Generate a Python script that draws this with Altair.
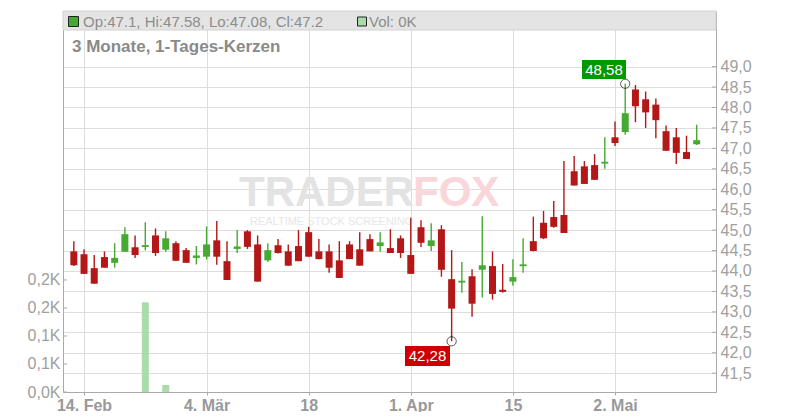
import altair as alt
import pandas as pd
import numpy as np

# ---------------- data ----------------
dates = [
    "2025-02-13", "2025-02-14", "2025-02-17", "2025-02-18", "2025-02-19", "2025-02-20", "2025-02-21",
    "2025-02-24", "2025-02-25", "2025-02-26", "2025-02-27", "2025-02-28",
    "2025-03-03", "2025-03-04", "2025-03-05", "2025-03-06", "2025-03-07",
    "2025-03-10", "2025-03-11", "2025-03-12", "2025-03-13", "2025-03-14",
    "2025-03-17", "2025-03-18", "2025-03-19", "2025-03-20", "2025-03-21",
    "2025-03-24", "2025-03-25", "2025-03-26", "2025-03-27", "2025-03-28", "2025-03-31",
    "2025-04-01", "2025-04-02", "2025-04-03", "2025-04-04",
    "2025-04-07", "2025-04-08", "2025-04-09", "2025-04-10", "2025-04-11",
    "2025-04-14", "2025-04-15", "2025-04-16", "2025-04-17",
    "2025-04-22", "2025-04-23", "2025-04-24", "2025-04-25",
    "2025-04-28", "2025-04-29", "2025-04-30",
    "2025-05-02", "2025-05-05", "2025-05-06", "2025-05-07", "2025-05-08", "2025-05-09",
    "2025-05-12", "2025-05-13", "2025-05-14",
]
opens = [
    44.48, 44.41, 44.07, 44.34, 44.20, 44.47, 44.58, 44.60, 44.87, 44.52,
    44.68, 44.51, 44.32, 44.35, 44.75, 44.24, 44.54, 44.97, 44.65, 44.26,
    44.63, 44.48, 44.61, 44.95, 44.48, 44.48, 44.26, 44.65, 44.53, 44.78,
    44.61, 44.56, 44.80, 44.39, 45.07, 44.61, 45.02, 43.80, 43.73, 43.87,
    44.03, 44.12, 43.54, 43.74, 44.13, 44.73, 45.18, 45.32, 45.37, 46.44,
    46.56, 46.59, 46.64, 47.27, 47.40, 48.44, 48.20, 48.07, 47.42, 47.27,
    46.91, 47.10,
]
highs = [
    44.73, 44.53, 44.39, 44.48, 44.68, 45.07, 44.87, 45.19, 45.04, 44.97,
    44.73, 44.56, 44.61, 45.09, 45.22, 44.73, 45.00, 45.00, 44.87, 44.68,
    44.78, 44.65, 45.00, 45.08, 44.78, 44.65, 44.73, 44.73, 44.95, 44.90,
    44.95, 45.02, 44.87, 45.30, 45.24, 45.17, 45.12, 44.51, 44.22, 44.04,
    45.34, 44.48, 44.17, 44.29, 44.80, 45.33, 45.47, 45.71, 46.69, 46.81,
    46.69, 46.86, 47.27, 47.66, 48.58, 48.55, 48.39, 48.22, 47.56, 47.50,
    47.31, 47.58,
]
lows = [
    44.12, 43.93, 43.69, 44.08, 44.08, 44.47, 44.32, 44.51, 44.37, 44.47,
    44.25, 44.20, 44.16, 44.28, 44.15, 43.78, 44.44, 44.54, 43.74, 44.22,
    44.43, 44.13, 44.24, 44.35, 44.29, 43.96, 43.83, 44.29, 44.13, 44.48,
    44.47, 44.44, 44.32, 43.93, 44.59, 44.49, 43.86, 42.28, 43.47, 42.88,
    43.35, 43.30, 43.47, 43.64, 43.96, 44.48, 44.78, 45.06, 44.93, 46.09,
    46.13, 46.23, 46.50, 47.06, 47.33, 47.64, 47.50, 47.25, 46.94, 46.62,
    46.74, 47.08,
]
closes = [
    44.14, 43.93, 43.69, 44.08, 44.32, 44.90, 44.39, 44.62, 44.44, 44.80,
    44.25, 44.20, 44.38, 44.65, 44.35, 43.78, 44.60, 44.59, 43.74, 44.51,
    44.44, 44.13, 44.24, 44.35, 44.29, 44.08, 43.83, 44.29, 44.13, 44.48,
    44.70, 44.44, 44.44, 43.93, 44.69, 44.75, 44.03, 43.08, 43.75, 43.20,
    44.14, 43.44, 43.49, 43.85, 44.15, 44.49, 44.80, 45.08, 44.93, 46.09,
    46.13, 46.23, 46.66, 47.13, 47.86, 48.03, 47.88, 47.69, 46.94, 46.89,
    46.74, 47.20,
]
volumes = [
    0, 0, 0, 0, 0, 0, 0, 160, 0, 12.5,
    0, 0, 0, 0, 0, 0, 0, 0, 0, 0,
    0, 0, 0, 0, 0, 0, 0, 0, 0, 0,
    0, 0, 0, 0, 0, 0, 0, 0, 0, 0,
    0, 0, 0, 0, 0, 0, 0, 0, 0, 0,
    0, 0, 0, 0, 0, 0, 0, 0, 0, 0,
    0, 0,
]
tick_dates = ["2025-02-14", "2025-03-04", "2025-03-18", "2025-04-01", "2025-04-15", "2025-05-02"]
tick_labels = ["14. Feb", "4. Mär", "18", "1. Apr", "15", "2. Mai"]
price_ticks = [41.5, 42.0, 42.5, 43.0, 43.5, 44.0, 44.5, 45.0, 45.5, 46.0, 46.5, 47.0, 47.5, 48.0, 48.5, 49.0]
vol_ticks = [0, 50, 100, 150, 200]
vol_tick_labels = ["0,0K", "0,1K", "0,1K", "0,2K", "0,2K"]

header_text = "Op:47.1, Hi:47.58, Lo:47.08, Cl:47.2"
vol_text = "Vol: 0K"
subtitle = "3 Monate, 1-Tages-Kerzen"
max_label = "48,58"
min_label = "42,28"

# ---------------- frames ----------------
df = pd.DataFrame({"date": dates, "open": opens, "high": highs, "low": lows,
                   "close": closes, "vol": volumes})
df["i"] = np.arange(len(df))
df["dir"] = np.where(df["close"] >= df["open"], "up", "down")
top = np.maximum(df["open"], df["close"])
bot = np.minimum(df["open"], df["close"])
mid = (top + bot) / 2
thin = (top - bot) < 0.045
df["btop"] = np.where(thin, mid + 0.0225, top)
df["bbot"] = np.where(thin, mid - 0.0225, bot)

imax = int(np.argmax(highs))
imin = int(np.argmin(lows))
ext = pd.DataFrame({"i": [imax, imin], "p": [highs[imax], lows[imin]]})

tick_idx = [dates.index(d) for d in tick_dates]
x_expr = "".join(f"datum.value == {k} ? '{l}' : " for k, l in zip(tick_idx, tick_labels)) + "''"
v_expr = "".join(f"datum.value == {k} ? '{l}' : " for k, l in zip(vol_ticks, vol_tick_labels)) + "''"

W, H = 653, 381
FONT = "Liberation Sans, Arial, Helvetica, sans-serif"
RED = "#b31717"
GREEN = "#46aa32"
AX = "#aaaaaa"

x_enc = alt.X("i:Q", scale=alt.Scale(domain=[-0.57, 62.4], nice=False, zero=False),
              axis=alt.Axis(values=tick_idx, labelExpr=x_expr, title=None, grid=True,
                            gridColor="#dddddd", domainColor=AX, tickColor=AX, tickSize=3,
                            labelFontWeight="bold", labelFontSize=16, labelColor="#999999",
                            labelPadding=2, labelFont=FONT, labelFlush=False))

p_scale = alt.Scale(domain=[41.04, 50.36], nice=False, zero=False)
p_axis = alt.Axis(orient="right", values=price_ticks, title=None, grid=True, gridColor="#dddddd",
                  ticks=False, domainColor=AX, labelColor="#a0a0a0", labelFontSize=16,
                  labelPadding=4, labelFont=FONT,
                  labelExpr="replace(format(datum.value, '.1f'), '.', ',')")
v_scale = alt.Scale(domain=[0, 680], nice=False)
v_axis = alt.Axis(orient="left", values=vol_ticks, title=None, grid=False, ticks=False,
                  domainColor=AX, labelColor="#a0a0a0", labelFontSize=16, labelPadding=3,
                  labelFont=FONT, labelExpr=v_expr)

color_enc = alt.Color("dir:N", scale=alt.Scale(domain=["up", "down"], range=[GREEN, RED]), legend=None)

# ---------------- volume group ----------------
vol_bars = alt.Chart(df).mark_bar(size=7, color="#a8dca8").encode(
    x=x_enc, y=alt.Y("vol:Q", scale=v_scale, axis=v_axis))
vol_tk = alt.Chart(pd.DataFrame({"v": vol_ticks})).mark_rule(color=AX).encode(
    y=alt.Y("v:Q", scale=v_scale, axis=v_axis), x=alt.value(0), x2=alt.value(4))
vol_group = alt.layer(vol_bars, vol_tk)

# ---------------- watermark / header ----------------
wm1 = alt.Chart(pd.DataFrame({"t": ["TRADER"]})).mark_text(
    font=FONT, fontSize=42, fontWeight="bold", color="#e3e3e3",
    align="left", baseline="alphabetic").encode(text="t:N", x=alt.value(176), y=alt.value(195))
wm2 = alt.Chart(pd.DataFrame({"t": ["FOX"]})).mark_text(
    font=FONT, fontSize=42, fontWeight="bold", color="#f9d6d9", align="left",
    baseline="alphabetic").encode(text="t:N", x=alt.value(350), y=alt.value(195))
wm3 = alt.Chart(pd.DataFrame({"t": ["REALTIME STOCK SCREENING"]})).mark_text(
    font=FONT, fontSize=11, color="#e6e6e6", align="left", baseline="middle").encode(
    text="t:N", x=alt.value(187), y=alt.value(211))

band = alt.Chart(pd.DataFrame({"t": [1]})).mark_rect(fill="#e4e4e4", stroke="#d2d2d2", strokeWidth=1).encode(
    x=alt.value(0), x2=alt.value(W), y=alt.value(0), y2=alt.value(19))
sq1 = alt.Chart(pd.DataFrame({"t": [1]})).mark_rect(fill="#44a832", stroke="#222222", strokeWidth=1).encode(
    x=alt.value(5.5), x2=alt.value(15.5), y=alt.value(5.5), y2=alt.value(15.5))
tx1 = alt.Chart(pd.DataFrame({"t": [header_text]})).mark_text(
    font=FONT, fontSize=15, color="#8c8c8c", align="left", baseline="middle").encode(
    text="t:N", x=alt.value(20), y=alt.value(10.5))
sq2 = alt.Chart(pd.DataFrame({"t": [1]})).mark_rect(fill="#a8dca8", stroke="#222222", strokeWidth=1).encode(
    x=alt.value(294.5), x2=alt.value(303.5), y=alt.value(6), y2=alt.value(15))
tx2 = alt.Chart(pd.DataFrame({"t": [vol_text]})).mark_text(
    font=FONT, fontSize=15, color="#8c8c8c", align="left", baseline="middle").encode(
    text="t:N", x=alt.value(306), y=alt.value(10.5))
sub = alt.Chart(pd.DataFrame({"t": [subtitle]})).mark_text(
    font=FONT, fontSize=17, fontWeight="bold", color="#8a8a8a", align="left", baseline="middle").encode(
    text="t:N", x=alt.value(9), y=alt.value(36))

# ---------------- price group ----------------
wicks = alt.Chart(df).mark_rule(strokeWidth=1.4).encode(
    x=x_enc, y=alt.Y("low:Q", scale=p_scale, axis=p_axis), y2="high:Q", color=color_enc)
bodies = alt.Chart(df).mark_bar(size=7).encode(
    x=x_enc, y=alt.Y("bbot:Q", scale=p_scale, axis=p_axis), y2="btop:Q", color=color_enc)
p_tk = alt.Chart(pd.DataFrame({"p": price_ticks})).mark_rule(color=AX).encode(
    y=alt.Y("p:Q", scale=p_scale, axis=p_axis), x=alt.value(W - 4), x2=alt.value(W))
circles = alt.Chart(ext).mark_point(shape="circle", size=85, filled=False, color="#111111",
                                    strokeWidth=1).encode(
    x=x_enc, y=alt.Y("p:Q", scale=p_scale, axis=p_axis))

box1 = alt.Chart(pd.DataFrame({"t": [1]})).mark_rect(fill="#009900").encode(
    x=alt.value(519), x2=alt.value(563), y=alt.value(49), y2=alt.value(68))
lab1 = alt.Chart(pd.DataFrame({"t": [max_label]})).mark_text(
    font=FONT, fontSize=15, color="white", align="center", baseline="middle").encode(
    text="t:N", x=alt.value(541), y=alt.value(58.5))
box2 = alt.Chart(pd.DataFrame({"t": [1]})).mark_rect(fill="#cc0000").encode(
    x=alt.value(342), x2=alt.value(387), y=alt.value(335), y2=alt.value(355))
lab2 = alt.Chart(pd.DataFrame({"t": [min_label]})).mark_text(
    font=FONT, fontSize=15, color="white", align="center", baseline="middle").encode(
    text="t:N", x=alt.value(364.5), y=alt.value(345))

price_group = alt.layer(wm1, wm2, wm3, wicks, bodies, p_tk, circles, box1, lab1, box2, lab2,
                        band, sq1, tx1, sq2, tx2, sub)

chart = alt.layer(vol_group, price_group).resolve_scale(y="independent").properties(
    width=W, height=H,
    autosize=alt.AutoSizeParams(type="none"),
    padding={"left": 55, "top": 3, "right": 76, "bottom": 20},
).configure_view(strokeWidth=0).configure(font=FONT, background="white")

chart.save("out.html", embed_options={"renderer": "svg", "actions": False})
